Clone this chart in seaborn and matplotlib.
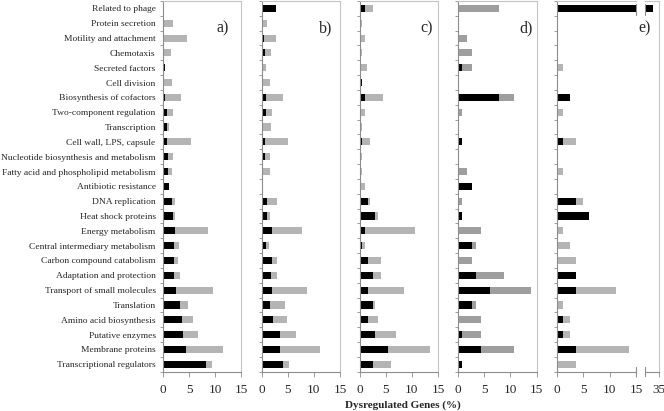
import numpy as np
import pandas as pd
import matplotlib
matplotlib.use('Agg')
import matplotlib.pyplot as plt
import seaborn as sns

# categories (top to bottom)
categories = ['Related to phage', 'Protein secretion', 'Motility and attachment', 'Chemotaxis',
              'Secreted factors', 'Cell division', 'Biosynthesis of cofactors',
              'Two-component regulation', 'Transcription', 'Cell wall, LPS, capsule',
              'Nucleotide biosynthesis and metabolism', 'Fatty acid and phospholipid metabolism',
              'Antibiotic resistance', 'DNA replication', 'Heat shock proteins',
              'Energy metabolism', 'Central intermediary metabolism', 'Carbon compound catabolism',
              'Adaptation and protection', 'Transport of small molecules', 'Translation',
              'Amino acid biosynthesis', 'Putative enzymes', 'Membrane proteins',
              'Transcriptional regulators']

# black segment and total bar length (%), per panel
a_black = [0, 0, 0, 0, 0.25, 0.2, 0.25, 0.7, 0.7, 0.7, 0.9, 0.9, 1.0, 1.7, 1.9,
           2.2, 2.1, 2.1, 2.1, 2.4, 3.3, 3.6, 3.8, 4.3, 8.3]
a_total = [0, 1.9, 4.5, 1.4, 0.25, 1.7, 3.4, 1.9, 1.0, 5.4, 1.9, 1.6, 1.15, 2.2, 2.2,
           8.5, 3.1, 2.8, 3.3, 9.6, 4.8, 5.8, 6.7, 11.4, 9.3]
b_black = [2.8, 0, 0.45, 0.65, 0.3, 0, 0.9, 0.75, 0.3, 0.55, 0.55, 0.25, 0.25, 1.0, 0.95,
           1.9, 0.9, 1.9, 1.7, 2.0, 1.6, 2.1, 3.5, 3.5, 4.1]
b_total = [2.8, 0.95, 2.7, 1.7, 0.75, 1.5, 4.0, 1.9, 1.8, 5.0, 1.65, 1.5, 0.3, 2.9, 1.6,
           7.7, 1.4, 3.0, 2.9, 8.7, 4.4, 4.8, 6.6, 11.2, 5.3]
c_black = [1.0, 0, 0, 0, 0, 0.5, 1.0, 0, 0, 0.5, 0, 0, 0, 1.5, 3.0,
           1.0, 0.5, 1.5, 2.5, 1.5, 2.5, 1.5, 3.0, 5.5, 2.5]
c_total = [2.5, 0.5, 1.0, 0.5, 1.45, 0.5, 4.45, 1.0, 0.5, 2.0, 0.5, 0.5, 1.0, 2.0, 3.45,
           10.5, 1.0, 4.0, 4.0, 8.5, 3.0, 3.5, 7.0, 13.5, 6.0]
d_black = [0, 0, 0, 0, 0.9, 0, 7.9, 0, 0, 0.9, 0, 0, 2.65, 0, 0.9,
           0, 2.65, 0, 3.5, 6.1, 2.65, 0, 0.9, 4.4, 0.9]
d_total = [7.9, 0, 1.8, 2.65, 2.65, 0, 10.6, 0.9, 0, 0.9, 0, 1.8, 2.65, 0.9, 0.9,
           4.4, 3.5, 2.65, 8.8, 14.0, 3.5, 4.4, 4.4, 10.6, 0.9]
e_black = [33.8, 0, 0, 0, 0, 0, 2.5, 0, 0, 1.25, 0, 0, 0, 3.7, 6.2,
           0, 0, 0, 3.7, 3.7, 0, 1.25, 1.25, 3.7, 0]
e_total = [33.8, 0, 0, 0, 1.25, 0, 2.5, 1.25, 0, 3.7, 0, 1.25, 0, 5.0, 6.2,
           1.25, 2.5, 3.7, 3.7, 11.2, 1.25, 2.5, 2.5, 13.6, 3.7]

panels = [('a)', a_black, a_total), ('b)', b_black, b_total), ('c)', c_black, c_total),
          ('d)', d_black, d_total), ('e)', e_black, e_total)]

sns.set_style('white')
plt.rcParams['font.family'] = ['Liberation Serif', 'DejaVu Serif']

W, H = 664, 411
fig = plt.figure(figsize=(W / 100, H / 100), dpi=100)

lefts = [163.3, 261.7, 359.7, 457.7, 556.7]
widths = [78, 78.3, 78.3, 79, 79.3]
letter_x = [223, 326, 427, 526, 645]
ax_top, ax_bot = 1.0, 371.7
dark_spine = '#8c8c8c'
light_spine = '#c4c4c4'


def draw_panel(ax, black, total, gray):
    df = pd.DataFrame({'cat': categories, 'black': black, 'total': total})
    sns.barplot(data=df, y='cat', x='total', order=categories, color=gray, saturation=1,
                width=0.48, linewidth=0, orient='h', ax=ax)
    sns.barplot(data=df, y='cat', x='black', order=categories, color='black', saturation=1,
                width=0.48, linewidth=0, orient='h', ax=ax)
    ax.set_xlabel('')
    ax.set_ylabel('')
    ax.set_ylim(24.5, -0.5)
    ax.set_yticks(np.arange(-0.5, 25, 1), minor=True)
    ax.tick_params(axis='y', which='major', length=0, labelsize=6.8, pad=5.5)
    ax.tick_params(axis='y', which='minor', length=2.5, color=dark_spine, width=0.6, left=True)
    ax.tick_params(axis='x', length=3.5, color=dark_spine, width=0.6, bottom=True,
                   labelsize=9.5, pad=5)
    for side in ['left', 'bottom']:
        ax.spines[side].set_color(dark_spine)
        ax.spines[side].set_linewidth(0.8)
    for side in ['top', 'right']:
        ax.spines[side].set_color(light_spine)
        ax.spines[side].set_linewidth(0.8)


for i, (letter, black, total) in enumerate(panels):
    ax = fig.add_axes([lefts[i] / W, 1 - ax_bot / H, widths[i] / W, (ax_bot - ax_top) / H])
    gray = '#9e9e9e' if letter == 'd)' else '#b4b4b4'
    draw_panel(ax, black, total, gray)
    ax.set_xlim(0, 15)
    ax.set_xticks([0, 5, 10, 15])
    if i > 0:
        ax.tick_params(axis='y', which='major', labelleft=False)
    fig.text(letter_x[i] / W, 1 - 28 / H, letter, ha='center', va='center', fontsize=11.5)
    if letter == 'e)':
        ax.spines['right'].set_visible(False)
        # broken part of the axis
        ax2 = fig.add_axes([645 / W, 1 - ax_bot / H, 14 / W, (ax_bot - ax_top) / H])
        draw_panel(ax2, black, total, gray)
        ax2.set_xlim(32.4, 35)
        ax2.set_xticks([35])
        ax2.tick_params(axis='y', which='both', left=False, labelleft=False)
        ax2.spines['left'].set_visible(False)
        for axx, xx in [(ax, 1.0), (ax2, 0.0)]:
            axx.plot([xx, xx], [-0.012, 0.012], transform=axx.transAxes, color=dark_spine,
                     lw=0.8, clip_on=False)
            axx.plot([xx, xx], [0.962, 0.992], transform=axx.transAxes, color=dark_spine,
                     lw=0.8, clip_on=False)

fig.text(403 / W, 1 - 405 / H, 'Dysregulated Genes (%)', ha='center', va='center',
         fontsize=8, fontweight='bold')

fig.savefig('out.png', dpi=100)
